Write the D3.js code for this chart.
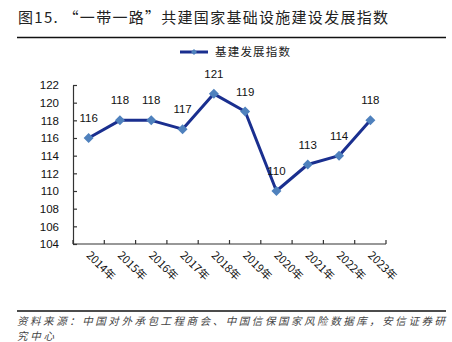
<!DOCTYPE html>
<html>
<head>
<meta charset="utf-8">
<script src="https://cdn.jsdelivr.net/npm/d3@7"></script>
<style>
  html, body { margin: 0; padding: 0; background: #fff; }
  svg { display: block; }
</style>
</head>
<body>
<svg id="chart" width="452" height="342"></svg>
<script>
// Belt and Road partner-country infrastructure development index
const years = ["2014年", "2015年", "2016年", "2017年", "2018年", "2019年", "2020年", "2021年", "2022年", "2023年"];
const indexValues = [116, 118, 118, 117, 121, 119, 110, 113, 114, 118];
const yTicks = [104, 106, 108, 110, 112, 114, 116, 118, 120, 122];
const seriesName = "基建发展指数";
const titleText = "图15. “一带一路”共建国家基础设施建设发展指数";
const sourceLines = ["资料来源：中国对外承包工程商会、中国信保国家风险数据库，安信证券研", "究中心"];

const svg = d3.select("#chart");
const cjk = "'Noto Sans CJK SC', 'Noto Sans', sans-serif";
const latin = "'Liberation Sans', Arial, sans-serif";

const plot = { left: 73, right: 386, top: 85, bottom: 244 };

const x = d3.scaleBand().domain(years).range([plot.left, plot.right]).padding(0);
const y = d3.scaleLinear().domain([104, 122]).range([plot.bottom, plot.top]);

// Title and rule
svg.append("text")
  .attr("x", 18).attr("y", 23)
  .attr("font-family", cjk).attr("font-size", 15)
  .attr("textLength", 370).attr("lengthAdjust", "spacing")
  .attr("fill", "#222")
  .text(titleText);
svg.append("line")
  .attr("x1", 17).attr("x2", 446).attr("y1", 37.5).attr("y2", 37.5)
  .attr("stroke", "#111").attr("stroke-width", 1.3);

// Legend
const lineColor = "#1a2f8f";
const markerColor = "#4f81bd";
const diamond = s => `M0,${-s}L${s},0L0,${s}L${-s},0Z`;
svg.append("line")
  .attr("x1", 180).attr("x2", 208).attr("y1", 52).attr("y2", 52)
  .attr("stroke", lineColor).attr("stroke-width", 3);
svg.append("path")
  .attr("d", diamond(3))
  .attr("transform", "translate(194,52)")
  .attr("fill", markerColor);
svg.append("text")
  .attr("x", 215).attr("y", 56)
  .attr("font-family", cjk).attr("font-size", 11.5).attr("fill", "#222")
  .attr("textLength", 75).attr("lengthAdjust", "spacing")
  .text(seriesName);

// Axes
const yAxis = d3.axisLeft(y).tickValues(yTicks).tickSize(-4).tickPadding(14).tickSizeOuter(0);
const gy = svg.append("g").attr("transform", `translate(${plot.left},0)`).call(yAxis);
gy.selectAll("text").attr("font-family", latin).attr("font-size", 11.5).attr("fill", "#111");
gy.selectAll("line, path").attr("stroke", "#333").attr("stroke-width", 1.2);

const gx = svg.append("g").attr("transform", `translate(0,${plot.bottom})`);
gx.append("line")
  .attr("x1", plot.left).attr("x2", plot.right)
  .attr("stroke", "#333").attr("stroke-width", 1.2);
const boundaries = years.map(d => x(d)).concat([plot.right]);
gx.selectAll("line.tick").data(boundaries).join("line")
  .attr("class", "tick")
  .attr("x1", d => d).attr("x2", d => d).attr("y1", 0).attr("y2", -4)
  .attr("stroke", "#333").attr("stroke-width", 1.2);
gx.selectAll("text.lbl").data(years).join("text")
  .attr("class", "lbl")
  .attr("transform", d => `translate(${x(d) + x.bandwidth() / 2 - 3},${12}) rotate(45)`)
  .attr("font-family", cjk).attr("font-size", 11).attr("fill", "#111")
  .text(d => d);

// Line series
const cx = d => x(d) + x.bandwidth() / 2;
const line = d3.line().x((d, i) => cx(years[i])).y(d => y(d));
svg.append("path")
  .datum(indexValues)
  .attr("d", line)
  .attr("fill", "none")
  .attr("stroke", lineColor).attr("stroke-width", 3)
  .attr("stroke-linejoin", "round");

svg.selectAll("path.marker").data(indexValues).join("path")
  .attr("class", "marker")
  .attr("d", diamond(5))
  .attr("transform", (d, i) => `translate(${cx(years[i])},${y(d)})`)
  .attr("fill", markerColor);

svg.selectAll("text.val").data(indexValues).join("text")
  .attr("class", "val")
  .attr("x", (d, i) => cx(years[i]))
  .attr("y", d => y(d) - 16)
  .attr("text-anchor", "middle")
  .attr("font-family", latin).attr("font-size", 11.5).attr("fill", "#111")
  .text(d => d);

// Source note
svg.append("line")
  .attr("x1", 17).attr("x2", 446).attr("y1", 311).attr("y2", 311)
  .attr("stroke", "#111").attr("stroke-width", 1.3);
const srcWidths = [428, 37];
svg.selectAll("text.src").data(sourceLines).join("text")
  .attr("class", "src")
  .attr("x", 17).attr("y", (d, i) => 325 + i * 15)
  .attr("font-family", cjk).attr("font-size", 10.5).attr("font-style", "italic")
  .attr("textLength", (d, i) => srcWidths[i]).attr("lengthAdjust", "spacing")
  .attr("fill", "#444")
  .text(d => d);
</script>
</body>
</html>
